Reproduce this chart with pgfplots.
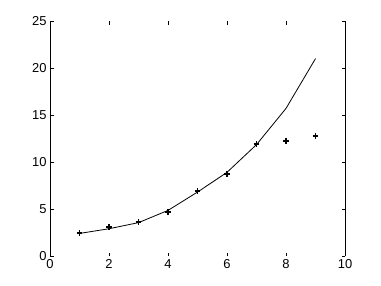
\documentclass[border=0pt]{standalone}
\usepackage{pgfplots}
\pgfplotsset{compat=1.18}
\usepackage{fontspec}
\setmainfont{Liberation Sans}
\begin{document}
\begin{tikzpicture}[x=1bp,y=1bp]
\path (0,0) rectangle (381,286);
\begin{axis}[
  at={(50bp,30bp)}, anchor=south west,
  scale only axis, width=295bp, height=235bp,
  xmin=0, xmax=10, ymin=0, ymax=25,
  xtick={0,2,4,6,8,10}, ytick={0,5,10,15,20,25},
  separate axis lines,
  x axis line style={draw=none},
  y axis line style={black, line width=0.8bp},
  tick align=inside, major tick length=3.5bp,
  tick style={black, line width=0.8bp},
  ticklabel style={font=\fontsize{13}{13}\selectfont},
  /pgf/number format/assume math mode=true,
  clip=false,
]
\addplot[black, line width=0.8bp] coordinates {
(1,2.4) (2,2.9) (3,3.55) (4,4.85) (5,6.8) (6,8.9) (7,11.85) (8,15.7) (9,21.0)};
\addplot[black, only marks, mark=+, mark size=2.8bp, line width=1.6bp] coordinates {
(1,2.45) (2,3.1) (3,3.6) (4,4.7) (5,6.9) (6,8.7) (7,11.9) (8,12.25) (9,12.75)};
\end{axis}
\end{tikzpicture}
\end{document}
